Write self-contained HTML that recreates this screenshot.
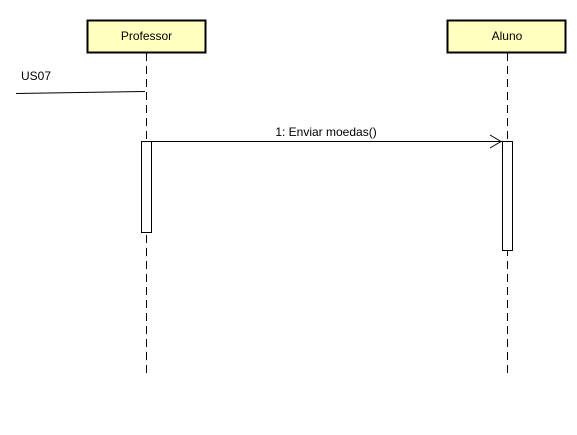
<!DOCTYPE html>
<html><head><meta charset="utf-8"><style>
html,body{margin:0;padding:0;background:#fff;width:577px;height:435px;overflow:hidden}
svg text{font-family:"Liberation Sans",sans-serif;font-size:12px;fill:#000}
</style></head><body>
<svg width="577" height="435" xmlns="http://www.w3.org/2000/svg">
<rect x="87.5" y="20.5" width="118" height="32" fill="#ffffc0" stroke="#000" stroke-width="2"/>
<text x="146.5" y="40" text-anchor="middle">Professor</text>
<rect x="447.5" y="20.5" width="118" height="32" fill="#ffffc0" stroke="#000" stroke-width="2"/>
<text x="507" y="40" text-anchor="middle">Aluno</text>
<line x1="146.5" y1="53" x2="146.5" y2="377" stroke="#000" stroke-dasharray="8,5"/>
<line x1="507.5" y1="53" x2="507.5" y2="377" stroke="#000" stroke-dasharray="8,5"/>
<line x1="16" y1="93.5" x2="145" y2="91.5" stroke="#000"/>
<text x="21" y="80">US07</text>
<rect x="141.5" y="141.5" width="10" height="91" fill="#fff" stroke="#000"/>
<rect x="502.5" y="141.5" width="10" height="109" fill="#fff" stroke="#000"/>
<line x1="152" y1="141.5" x2="502" y2="141.5" stroke="#000"/>
<polyline points="490,135 501,141.5 490,148" fill="none" stroke="#000"/>
<text x="326" y="136" text-anchor="middle">1: Enviar moedas()</text>
</svg>
</body></html>
